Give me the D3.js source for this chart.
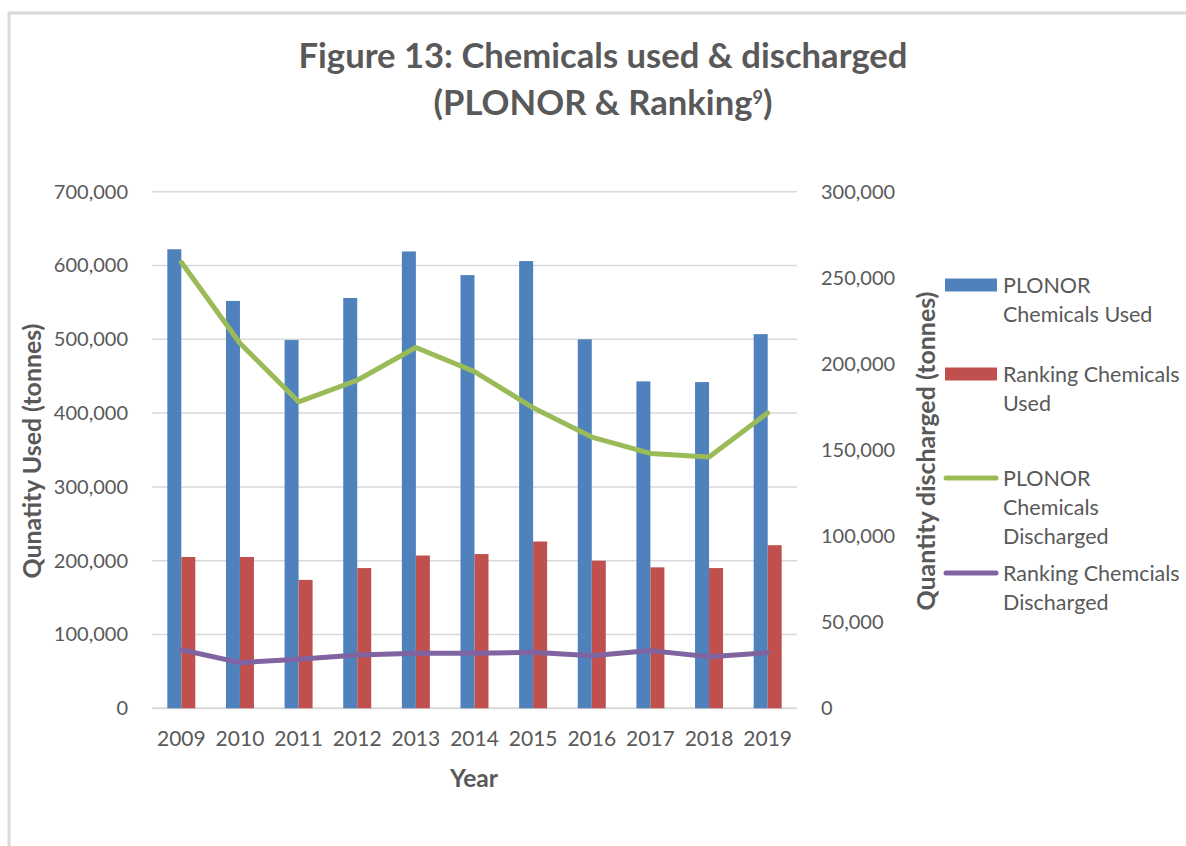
<!DOCTYPE html>
<html>
<head>
<meta charset="utf-8">
<script src="https://cdn.jsdelivr.net/npm/d3@7"></script>
<style>
  html, body { margin: 0; padding: 0; background: #ffffff; }
  svg { display: block; }
  text { font-family: Lato, "Open Sans", sans-serif; }
</style>
</head>
<body>
<svg id="chart" width="1186" height="846"></svg>
<script>
// ---- data ----
const years = ["2009","2010","2011","2012","2013","2014","2015","2016","2017","2018","2019"];
const plonorUsed = [622000, 552000, 499000, 556000, 619000, 587000, 606000, 500000, 443000, 442000, 507000];
const rankingUsed = [205000, 205000, 174000, 190000, 207000, 209000, 226000, 200000, 191000, 190000, 221000];
const plonorDischarged = [259000, 212000, 178000, 190500, 209500, 195500, 174500, 157500, 148000, 146000, 171500];
const rankingDischarged = [34000, 26500, 28500, 31000, 32000, 32000, 32500, 30500, 33500, 30000, 32300];
const leftTicks = [0, 100000, 200000, 300000, 400000, 500000, 600000, 700000];
const rightTicks = [0, 50000, 100000, 150000, 200000, 250000, 300000];
const legendItems = [
  { type: "bar", color: "#4f81bd", lines: ["PLONOR", "Chemicals Used"] },
  { type: "bar", color: "#c0504d", lines: ["Ranking Chemicals", "Used"] },
  { type: "line", color: "#9bbb59", lines: ["PLONOR", "Chemicals", "Discharged"] },
  { type: "line", color: "#8064a2", lines: ["Ranking Chemcials", "Discharged"] }
];

const svg = d3.select("#chart");
const textColor = "#595959";
const gridColor = "#d9d9d9";

// outer frame
svg.append("path")
  .attr("d", "M9,900 L9,13 L1200,13")
  .attr("fill", "none").attr("stroke", gridColor).attr("stroke-width", 3);

const plot = { left: 152, right: 797, top: 191.7, bottom: 708.3 };

const x0 = d3.scaleBand().domain(years).range([plot.left, plot.right])
  .paddingInner(0.5225).paddingOuter(0.26125);
const x1 = d3.scaleBand().domain(["p", "r"]).range([0, x0.bandwidth()]);
const yL = d3.scaleLinear().domain([0, 700000]).range([plot.bottom, plot.top]);
const yR = d3.scaleLinear().domain([0, 300000]).range([plot.bottom, plot.top]);
const fmt = d3.format(",");

function fitText(sel, target) {
  const w = sel.node().getComputedTextLength();
  const fs = parseFloat(sel.style("font-size"));
  sel.style("font-size", (fs * target / w) + "px");
}

// gridlines
svg.append("g").selectAll("line").data(leftTicks).join("line")
  .attr("x1", plot.left).attr("x2", plot.right)
  .attr("y1", d => yL(d)).attr("y2", d => yL(d))
  .attr("stroke", gridColor).attr("stroke-width", d => d === 0 ? 2 : 1.5);

// left axis labels
const leftAxis = svg.append("g").attr("transform", `translate(${plot.left},0)`)
  .call(d3.axisLeft(yL).tickValues(leftTicks).tickFormat(fmt).tickSize(0).tickPadding(24));
leftAxis.select(".domain").remove();
leftAxis.selectAll("text").attr("fill", textColor).style("font-size", "20px").style("font-family", "Lato, sans-serif");

// right axis labels
const rightAxis = svg.append("g").attr("transform", `translate(${plot.right},0)`)
  .call(d3.axisRight(yR).tickValues(rightTicks).tickFormat(fmt).tickSize(0).tickPadding(24));
rightAxis.select(".domain").remove();
rightAxis.selectAll("text").attr("fill", textColor).style("font-size", "20px").style("font-family", "Lato, sans-serif");

// bottom axis labels
const bottomAxis = svg.append("g").attr("transform", `translate(0,${plot.bottom})`)
  .call(d3.axisBottom(x0).tickSize(0).tickPadding(23));
bottomAxis.select(".domain").remove();
bottomAxis.selectAll("text").attr("fill", textColor).style("font-size", "21px").style("font-family", "Lato, sans-serif");

// bars
const barGroups = svg.append("g").selectAll("g").data(years).join("g")
  .attr("transform", d => `translate(${x0(d)},0)`);
barGroups.append("rect")
  .attr("x", x1("p")).attr("width", x1.bandwidth())
  .attr("y", (d, i) => yL(plonorUsed[i]))
  .attr("height", (d, i) => yL(0) - yL(plonorUsed[i]))
  .attr("fill", "#4f81bd");
barGroups.append("rect")
  .attr("x", x1("r")).attr("width", x1.bandwidth())
  .attr("y", (d, i) => yL(rankingUsed[i]))
  .attr("height", (d, i) => yL(0) - yL(rankingUsed[i]))
  .attr("fill", "#c0504d");

// lines
const cx = d => x0(d) + x0.bandwidth() / 2;
const lineGen = vals => d3.line().x((d) => cx(d)).y((d, i) => yR(vals[i]))(years);
svg.append("path").attr("d", lineGen(plonorDischarged))
  .attr("fill", "none").attr("stroke", "#9bbb59").attr("stroke-width", 5)
  .attr("stroke-linejoin", "round").attr("stroke-linecap", "round");
svg.append("path").attr("d", lineGen(rankingDischarged))
  .attr("fill", "none").attr("stroke", "#8064a2").attr("stroke-width", 5)
  .attr("stroke-linejoin", "round").attr("stroke-linecap", "round");

// title
const t1 = svg.append("text").attr("x", 603).attr("y", 68).attr("text-anchor", "middle")
  .attr("fill", textColor).style("font-weight", "bold").style("font-size", "30px")
  .text("Figure 13: Chemicals used & discharged");
fitText(t1, 609);
const t2 = svg.append("text").attr("x", 603).attr("y", 115).attr("text-anchor", "middle")
  .attr("fill", textColor).style("font-weight", "bold").style("font-size", t1.style("font-size"));
t2.append("tspan").text("(PLONOR & Ranking");
t2.append("tspan").attr("dy", -11).style("font-size", "18px").text("9");
t2.append("tspan").attr("dy", 11).text(")");

// axis titles
const lt = svg.append("text").attr("transform", "translate(41,451) rotate(-90)").attr("text-anchor", "middle")
  .attr("fill", textColor).style("font-weight", "bold").style("font-size", "21px")
  .text("Qunatity Used (tonnes)");
fitText(lt, 255);
const rt = svg.append("text").attr("transform", "translate(935,451) rotate(-90)").attr("text-anchor", "middle")
  .attr("fill", textColor).style("font-weight", "bold").style("font-size", "21px")
  .text("Quantity discharged (tonnes)");
fitText(rt, 319);
const yt = svg.append("text").attr("x", 474).attr("y", 787).attr("text-anchor", "middle")
  .attr("fill", textColor).style("font-weight", "bold").style("font-size", "21px")
  .text("Year");
fitText(yt, 48);

// legend
const legendY = [285, 374, 478, 573];
const lg = svg.append("g").selectAll("g").data(legendItems).join("g")
  .attr("transform", (d, i) => `translate(945,${legendY[i]})`);
lg.filter(d => d.type === "bar").append("rect")
  .attr("x", 0).attr("y", -6.5).attr("width", 52).attr("height", 13)
  .attr("fill", d => d.color);
lg.filter(d => d.type === "line").append("line")
  .attr("x1", 1).attr("x2", 51).attr("y1", 0).attr("y2", 0)
  .attr("stroke", d => d.color).attr("stroke-width", 5).attr("stroke-linecap", "round");
lg.append("text").attr("x", 58).attr("y", 0)
  .attr("fill", textColor).style("font-size", "21.5px")
  .selectAll("tspan").data(d => d.lines).join("tspan")
  .attr("x", 58).attr("y", (d, i) => i * 29 + 7.5)
  .text(d => d);
</script>
</body>
</html>
